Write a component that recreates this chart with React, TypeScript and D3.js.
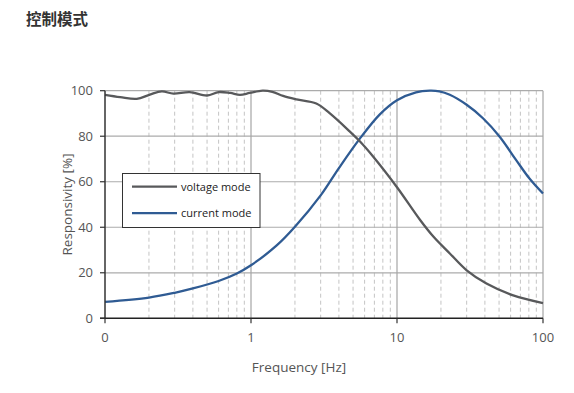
import React from "react";
import * as d3 from "d3";

const voltageF = [0.1, 0.127, 0.165, 0.203, 0.245, 0.294, 0.38, 0.5, 0.6, 0.72, 0.84, 0.98, 1.2, 1.4, 1.66, 2.05, 2.8, 3.47, 4.76, 5.52, 6.88, 10, 14.4, 17.8, 23, 30, 41, 62.5, 100];
const voltageV = [98.2, 97.2, 96.4, 98.3, 99.7, 98.7, 99.4, 97.9, 99.4, 99.0, 98.2, 99.0, 100, 99.5, 97.7, 96.2, 94.4, 90, 82, 78, 71, 57.6, 43.2, 35.8, 28.5, 21.1, 15.3, 10.1, 6.7];

const currentF = [0.1, 0.2, 0.3, 0.4, 0.6, 0.8, 1.0, 1.5, 2.0, 3.0, 4.0, 5.5, 7.6, 10, 13.5, 16.8, 19.5, 23, 30, 38.8, 50.5, 65.5, 80.8, 100];
const currentV = [7.2, 9.1, 11.2, 13.1, 16.4, 19.7, 23.3, 32, 40.2, 54, 66, 78.5, 89.5, 95.8, 99.3, 100, 99.7, 98.2, 93.8, 87.9, 79.8, 69.5, 61.4, 54.8];

const xTicks = [0.1, 1, 10, 100];
const xTickLabels = ["0", "1", "10", "100"];
const yTicks = [0, 20, 40, 60, 80, 100];
const minorX = [0.2, 0.3, 0.4, 0.5, 0.6, 0.7, 0.8, 0.9, 2, 3, 4, 5, 6, 7, 8, 9, 20, 30, 40, 50, 60, 70, 80, 90];

const seriesNames = ["voltage mode", "current mode"];
const seriesColors = ["#58595b", "#2f5b93"];

const FONT = "'Open Sans', 'Noto Sans', sans-serif";

export default function App() {
  const W = 574, H = 393;
  const L = 105, R = 543, T = 90.7, B = 318.3;
  const x = d3.scaleLog().domain([0.1, 100]).range([L, R]);
  const y = d3.scaleLinear().domain([0, 100]).range([B, T]);

  const line = d3
    .line<[number, number]>()
    .x((d) => x(d[0]))
    .y((d) => Math.max(T, y(d[1])))
    .curve(d3.curveCatmullRom.alpha(0.5));

  const vData: [number, number][] = voltageF.map((f, i) => [f, voltageV[i]]);
  const cData: [number, number][] = currentF.map((f, i) => [f, currentV[i]]);

  const legX = 122.5, legY = 173.5, legW = 137.5, legH = 54;

  return (
    <svg width={W} height={H} style={{ position: "absolute", left: 0, top: 0 }}>
      <text x={26} y={25} fontFamily="'Noto Sans CJK SC', sans-serif" fontSize={15.5} fontWeight="bold" fill="#333">
        控制模式
      </text>

      {minorX.map((f) => (
        <line key={"m" + f} x1={x(f)} x2={x(f)} y1={T} y2={B} stroke="#c4c4c4" strokeWidth={1} strokeDasharray="4,3" />
      ))}
      {yTicks.slice(1).map((v) => (
        <line key={"h" + v} x1={L} x2={R} y1={y(v)} y2={y(v)} stroke="#ababab" strokeWidth={1.2} />
      ))}
      {[1, 10, 100].map((f) => (
        <line key={"M" + f} x1={x(f)} x2={x(f)} y1={T} y2={B} stroke="#a5a5a5" strokeWidth={1.2} />
      ))}

      <path d={line(cData) || ""} fill="none" stroke={seriesColors[1]} strokeWidth={2.3} />
      <path d={line(vData) || ""} fill="none" stroke={seriesColors[0]} strokeWidth={2.3} />

      <line x1={L} x2={L} y1={T} y2={B} stroke="#333" strokeWidth={1.5} />
      <line x1={L - 5} x2={R} y1={B} y2={B} stroke="#222" strokeWidth={1.5} />
      {yTicks.map((v) => (
        <g key={"yt" + v}>
          <line x1={L - 5} x2={L} y1={y(v)} y2={y(v)} stroke="#333" strokeWidth={1.2} />
          <text x={L - 12} y={y(v) + 4.5} textAnchor="end" fontFamily={FONT} fontSize={13} fill="#555">
            {v}
          </text>
        </g>
      ))}
      {xTicks.map((f, i) => (
        <g key={"xt" + f}>
          <line x1={x(f)} x2={x(f)} y1={B} y2={B + 5} stroke="#333" strokeWidth={1.2} />
          <text x={x(f)} y={B + 24} textAnchor="middle" fontFamily={FONT} fontSize={13} fill="#555">
            {xTickLabels[i]}
          </text>
        </g>
      ))}

      <text x={299} y={372} textAnchor="middle" fontFamily={FONT} fontSize={13.5} fill="#555">
        Frequency [Hz]
      </text>
      <text
        transform={`translate(72, ${(T + B) / 2}) rotate(-90)`}
        textAnchor="middle"
        fontFamily={FONT}
        fontSize={13.5}
        fill="#555"
      >
        Responsivity [%]
      </text>

      <rect x={legX} y={legY} width={legW} height={legH} fill="#fff" stroke="#333" strokeWidth={1} />
      {seriesNames.map((n, i) => (
        <g key={n}>
          <line x1={132} x2={177} y1={186.7 + i * 26.5} y2={186.7 + i * 26.5} stroke={seriesColors[i]} strokeWidth={2.3} />
          <text x={181} y={190.5 + i * 26.5} fontFamily={FONT} fontSize={11} fill="#222">
            {n}
          </text>
        </g>
      ))}
    </svg>
  );
}
